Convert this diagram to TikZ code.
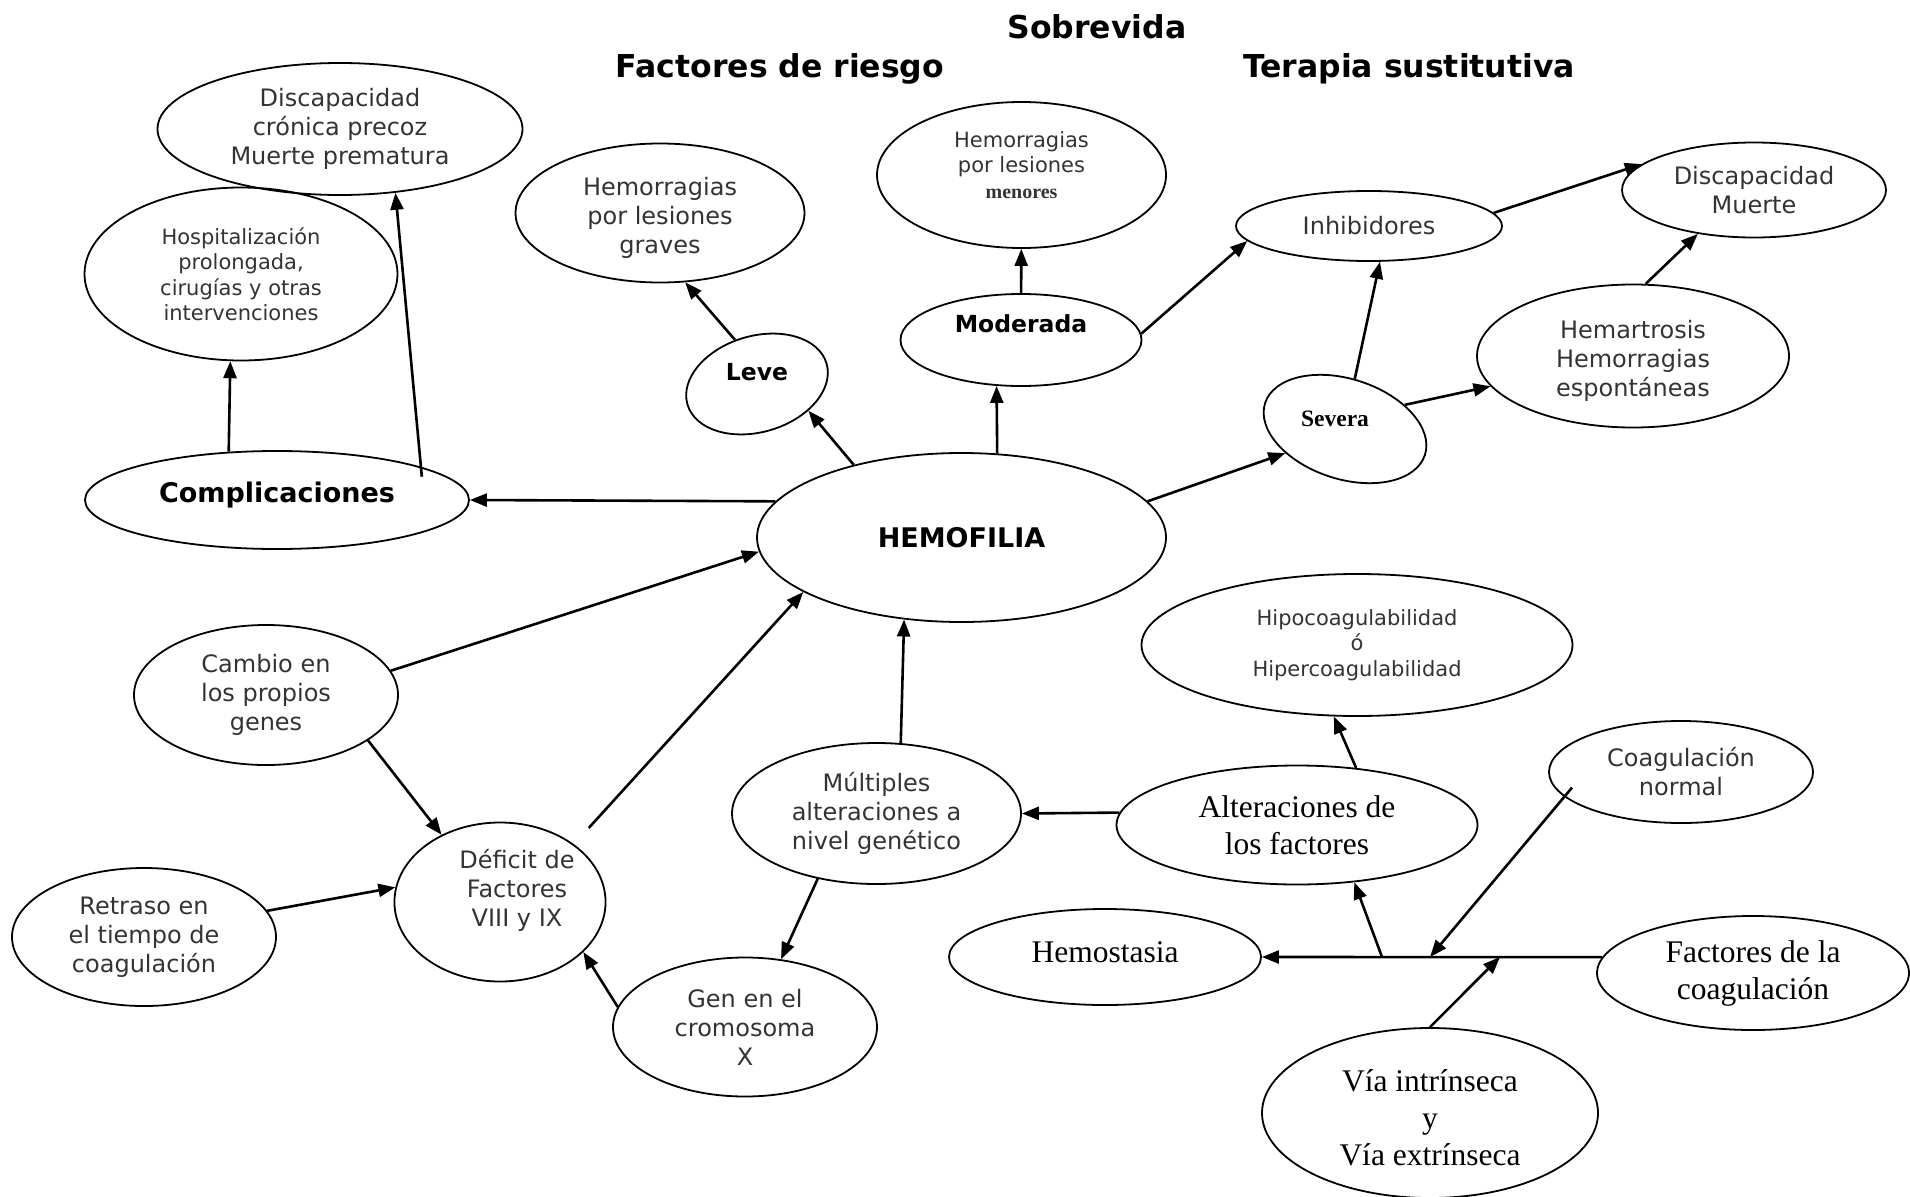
\documentclass[tikz,border=0pt]{standalone}
\usepackage{fontspec}
\setmainfont{Liberation Serif}
\setsansfont{DejaVu Sans}
\usepackage{graphicx}
\usepackage{tikz}
\usetikzlibrary{arrows.meta,shapes.geometric}

\definecolor{inkgray}{gray}{0.2}

\begin{document}
\begin{tikzpicture}[x=1pt, y=-1pt, >={Triangle[length=17pt,width=13pt]},
  bubble/.style={ellipse, draw, line width=1.8pt, inner sep=0pt, align=center},
  genbox/.style={bubble, text=inkgray, font=\sffamily\fontsize{24}{29}\selectfont},
  smallbox/.style={bubble, text=inkgray, font=\sffamily\fontsize{21}{25.5}\selectfont},
  boldbox/.style={bubble, font=\sffamily\bfseries\fontsize{27}{32}\selectfont},
  gradebox/.style={bubble, font=\sffamily\bfseries\fontsize{23.5}{28}\selectfont},
  serifbox/.style={bubble, font=\rmfamily\fontsize{31.5}{37}\selectfont},
  headline/.style={font=\sffamily\bfseries\fontsize{31.5}{38}\selectfont, anchor=base},
  link/.style={->, line width=2.6pt}]

\useasboundingbox (0,0) rectangle (1910,1196);

% headings
\node[headline] (sobre) at (1097,39) {Sobrevida};
\node[headline] (riesgo) at (780,78) {Factores de riesgo};
\node[headline] (terapia) at (1409,78) {Terapia sustitutiva};

% the disease in the middle
\node[boldbox, minimum width=409pt, minimum height=169pt] (hemo) at (961.5,537.5) {HEMOFILIA};

% complications, left
\node[boldbox, text depth=16.5pt, minimum width=384pt, minimum height=98pt] (compl) at (277,500) {Complicaciones};
\node[smallbox, minimum width=313pt, minimum height=173pt] (hosp) at (241,274) {Hospitalización\\prolongada,\\cirugías y otras\\intervenciones};
\node[genbox, minimum width=365pt, minimum height=132pt] (discp) at (340,129) {Discapacidad\\crónica precoz\\Muerte prematura};

% the three grades
\node[gradebox, rotate=16.5, minimum width=145pt, minimum height=96pt] (leve) at (757,384) {\rotatebox{-16.5}{\raisebox{24pt}{Leve}}};
\node[genbox, minimum width=289pt, minimum height=139pt] (hgrav) at (660,213) {\rule{0pt}{28pt}Hemorragias\\por lesiones\\graves};
\node[gradebox, text depth=32pt, minimum width=241pt, minimum height=92pt] (mod) at (1021,340) {Moderada};
\node[smallbox, text depth=20pt, minimum width=289pt, minimum height=146pt] (hmen) at (1021.5,175) {Hemorragias\\por lesiones\\{\rmfamily\bfseries\fontsize{20}{25}\selectfont menores}};
\node[bubble, font=\rmfamily\bfseries\fontsize{23.5}{28}\selectfont, rotate=-18, minimum width=168pt, minimum height=100pt] (sev) at (1345,429) {\rotatebox{18}{\raisebox{20pt}{Severa}\hspace{20pt}}};
\node[genbox, minimum width=266pt, minimum height=70pt] (inhib) at (1369,226) {Inhibidores};
\node[genbox, minimum width=264pt, minimum height=95pt] (dism) at (1754,190) {Discapacidad\\Muerte};
\node[genbox, minimum width=312pt, minimum height=143pt] (hemar) at (1633,356) {\rule{0pt}{28pt}Hemartrosis\\Hemorragias\\espontáneas};

% causes, lower left
\node[genbox, minimum width=264pt, minimum height=140pt] (cambio) at (266,695) {Cambio en\\los propios\\genes};
\node[genbox, text depth=28pt, minimum width=206pt, minimum height=159pt] (deficit) at (500,902) {\hspace*{34pt}Déficit de\\\hspace*{34pt}Factores\\\hspace*{34pt}VIII y IX};
\node[genbox, minimum width=264pt, minimum height=138pt] (retraso) at (144,937) {Retraso en\\el tiempo de\\coagulación};
\node[genbox, minimum width=264pt, minimum height=139pt] (genx) at (745,1027) {Gen en el\\cromosoma\\X};
\node[genbox, minimum width=289pt, minimum height=141pt] (mult) at (876.5,813.5) {Múltiples\\alteraciones a\\nivel genético};

% coagulation, lower right
\node[serifbox, minimum width=361pt, minimum height=119pt] (alter) at (1297,825) {Alteraciones de\\los factores};
\node[smallbox, minimum width=431pt, minimum height=142pt] (hipo) at (1357,645) {Hipocoagulabilidad\\ó\\Hipercoagulabilidad};
\node[genbox, minimum width=264pt, minimum height=102pt] (cnorm) at (1681,772) {Coagulación\\normal};
\node[serifbox, text depth=10pt, minimum width=312pt, minimum height=96pt] (hemost) at (1105,957) {Hemostasia};
\node[serifbox, minimum width=312pt, minimum height=114pt] (fcoag) at (1753,973) {Factores de la\\coagulación};
\node[serifbox, minimum width=336pt, minimum height=170pt] (via) at (1430,1113) {\rule{0pt}{32pt}Vía intrínseca\\y\\Vía extrínseca};

% points on the coagulation line
\coordinate (j1) at (1382,957);
\coordinate (j2) at (1430,957);
\coordinate (j3) at (1500,957);

% arrows out of the centre
\draw[link] (hemo.169) -- (compl.east);
\draw[link] (hemo.146) -- (leve.316);
\draw[link] (leve.100) -- (hgrav.290);
\draw[link] (hemo.67) -- (mod.242);
\draw[link] (mod) -- (hmen);
\draw[link] (mod.3) -- (inhib.187);
\draw[link] (hemo.11) -- (sev.220);
\draw[link] (sev.97) -- (inhib.287);
\draw[link] (sev.40) -- (hemar.192);
\draw[link] (inhib.6) -- (dism.167);
\draw[link] (hemar.80) -- (dism.218);
\draw[link] (compl.135) -- (hosp.263);
\draw[link, shorten <=-10pt] (compl.13) -- (discp.311);

% arrows into the centre
\draw[link] (cambio.11) -- (hemo.184);
\draw[link] (cambio.336) -- (deficit.131);
\draw[link] (retraso.12) -- (deficit.172);
\draw[link, shorten <=22pt] (deficit.38) -- (hemo.199);
\draw[link] (genx.171) -- (deficit.329);
\draw[link] (mult.71) -- (hemo.235);
\draw[link] (mult.228) -- (genx.62);
\draw[link] (alter.176) -- (mult.east);
\draw[link] (alter.44) -- (hipo.252);

% coagulation line
\draw[link] (fcoag.174) -- (hemost.east);
\draw[link] (j1) -- (alter.315);
\draw[link, shorten <=-12pt] (cnorm.192) -- (j2);
\draw[link] (via.north) -- (j3);

\end{tikzpicture}
\end{document}
